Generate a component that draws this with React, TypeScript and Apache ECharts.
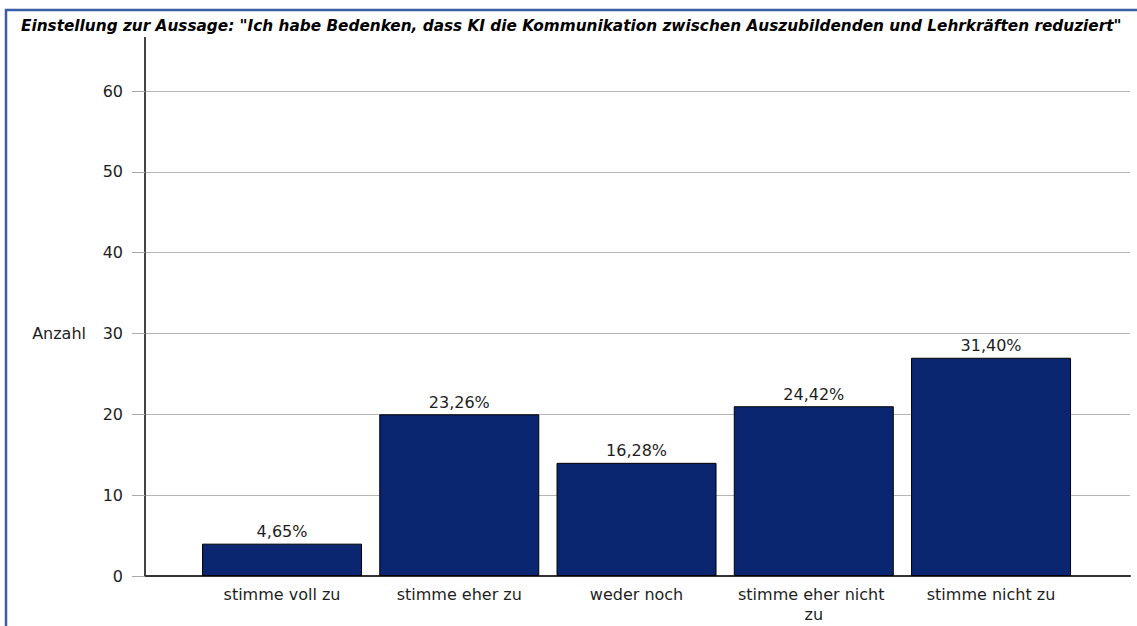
import React, { useEffect, useRef } from "react";
import * as echarts from "echarts";

const TITLE =
  'Einstellung zur Aussage: "Ich habe Bedenken, dass KI die Kommunikation zwischen Auszubildenden und Lehrkräften reduziert"';
const categories = [
  "stimme voll zu",
  "stimme eher zu",
  "weder noch",
  "stimme eher nicht zu",
  "stimme nicht zu",
];
const counts = [4, 20, 14, 21, 27];
const yTicks = [0, 10, 20, 30, 40, 50, 60];

const FONT = "DejaVu Sans";
const GRID_LEFT = 145;
const GRID_TOP = 91;
const GRID_RIGHT = 7;
const GRID_BOTTOM = 50;

export default function App() {
  const ref = useRef<HTMLDivElement>(null);
  useEffect(() => {
    if (!ref.current) return;
    const chart = echarts.init(ref.current, null, { renderer: "svg" });
    const total = counts.reduce((a, b) => a + b, 0);
    const pct = counts.map((c) => ((c / total) * 100).toFixed(2).replace(".", ",") + "%");
    const catIdx = categories.map((_, i) => i);
    chart.setOption({
      animation: false,
      backgroundColor: "#ffffff",
      textStyle: { fontFamily: FONT },
      title: {
        text: TITLE,
        left: 16,
        top: 13,
        textStyle: {
          fontFamily: FONT,
          fontSize: 15.3,
          fontWeight: "bold",
          fontStyle: "italic",
          color: "#000",
        },
      },
      grid: { left: GRID_LEFT, right: GRID_RIGHT, top: GRID_TOP, bottom: GRID_BOTTOM, containLabel: false },
      xAxis: {
        type: "value",
        min: -0.773,
        max: 4.784,
        axisLine: { show: true, onZero: false, lineStyle: { color: "#333", width: 2 } },
        axisTick: { show: false },
        splitLine: { show: false },
        axisLabel: {
          customValues: catIdx,
          margin: 8,
          fontFamily: FONT,
          fontSize: 16,
          color: "#1e1e1e",
          lineHeight: 20,
          width: 165,
          overflow: "break",
          formatter: (v: number) => categories[Math.round(v)] ?? "",
        },
      },
      yAxis: {
        type: "value",
        min: yTicks[0],
        max: yTicks[yTicks.length - 1],
        interval: 10,
        name: "Anzahl",
        nameLocation: "middle",
        nameRotate: 0,
        nameGap: 59,
        nameTextStyle: { fontFamily: FONT, fontSize: 16, color: "#1e1e1e", padding: [0, 0, 55, 0] },
        axisLine: { show: true, onZero: false, lineStyle: { color: "#444", width: 2 } },
        axisTick: { show: true, length: 13, lineStyle: { color: "#aaa" } },
        splitLine: { show: true, lineStyle: { color: "#b5b5b5", width: 1 } },
        axisLabel: { margin: 22, fontFamily: FONT, fontSize: 16, color: "#1e1e1e" },
      },
      graphic: [
        {
          type: "line",
          shape: { x1: GRID_LEFT, y1: GRID_TOP - 54, x2: GRID_LEFT, y2: GRID_TOP },
          style: { stroke: "#444", lineWidth: 2 },
        },
        {
          type: "polyline",
          shape: { points: [[6, 700], [6, 10], [1200, 10]] },
          style: { stroke: "#3a5ea3", lineWidth: 2.5, fill: null },
        },
      ],
      series: [
        {
          type: "bar",
          data: counts.map((c, i) => [i, c]),
          barWidth: 160,
          itemStyle: { color: "#0b2670", borderColor: "#000", borderWidth: 1 },
          label: {
            show: true,
            position: "top",
            distance: 4,
            fontFamily: FONT,
            fontSize: 16,
            color: "#1e1e1e",
            formatter: (p: any) => pct[p.dataIndex],
          },
        },
      ],
    });
    return () => chart.dispose();
  }, []);
  return (
    <div
      ref={ref}
      style={{ position: "fixed", left: 0, top: 0, width: 1137, height: 626, background: "#fff" }}
    />
  );
}
